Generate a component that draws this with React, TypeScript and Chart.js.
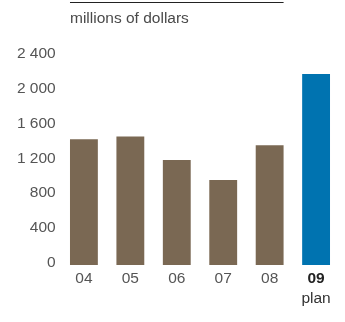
import React, { useEffect, useRef } from "react";
import { Chart, registerables } from "chart.js";

Chart.register(...registerables);

// ---- data ----
const categories = ["04", "05", "06", "07", "08", "09"];
const capitalSpending = [1450, 1480, 1210, 980, 1380, 2200];
const planIndex = 5;
const planNote = "plan";
const unitTitle = "millions of dollars";
const yTickValues = [0, 400, 800, 1200, 1600, 2000, 2400];
const yTickLabels = ["0", "400", "800", "1 200", "1 600", "2 000", "2 400"];

// ---- style ----
const BROWN = "#7a6853";
const BLUE = "#0073b0";
const FONT = "'Liberation Sans', Arial, Helvetica, sans-serif";
const FONT_SIZE = 15.5;

export default function App() {
  const ref = useRef<HTMLCanvasElement>(null);

  useEffect(() => {
    const canvas = ref.current;
    if (!canvas) return;

    const headerPlugin = {
      id: "header",
      afterDraw(chart: any) {
        const { ctx, chartArea } = chart;
        const meta = chart.getDatasetMeta(0);
        const first = meta.data[0] as any;
        const lastHist = meta.data[planIndex - 1] as any;
        const left = first.x - first.width / 2;
        const right = lastHist.x + lastHist.width / 2;
        ctx.save();
        ctx.strokeStyle = "#222";
        ctx.lineWidth = 1;
        ctx.beginPath();
        ctx.moveTo(left, 2.5);
        ctx.lineTo(right, 2.5);
        ctx.stroke();
        ctx.font = `${FONT_SIZE}px ${FONT}`;
        ctx.fillStyle = "#4a4a4a";
        ctx.textBaseline = "middle";
        ctx.textAlign = "left";
        ctx.fillText(unitTitle, left, 18.5);
        const xs = chart.scales.x;
        ctx.textAlign = "center";
        ctx.fillStyle = "#333";
        ctx.fillText(planNote, xs.getPixelForValue(planIndex), chartArea.bottom + 33.5);
        ctx.restore();
      },
    };

    const chart = new Chart(canvas, {
      type: "bar",
      data: {
        labels: categories,
        datasets: [
          {
            data: capitalSpending,
            backgroundColor: categories.map((_, i) => (i === planIndex ? BLUE : BROWN)),
            borderWidth: 0,
            categoryPercentage: 1,
            barPercentage: 0.6,
          },
        ],
      },
      options: {
        animation: false,
        responsive: false,
        maintainAspectRatio: false,
        layout: { padding: { top: 56.7, left: 0, right: 5.7, bottom: 0 } },
        plugins: {
          legend: { display: false },
          tooltip: { enabled: false },
          title: { display: false },
        },
        scales: {
          x: {
            grid: { display: false, drawTicks: false },
            border: { display: false },
            ticks: {
              padding: 4,
              font: (c: any) => ({
                family: FONT,
                size: FONT_SIZE,
                weight: c.index === planIndex ? "bold" : "normal",
              }),
              color: (c: any) => (c.index === planIndex ? "#222" : "#555"),
            },
            afterFit: (s: any) => {
              s.height = 57;
            },
          },
          y: {
            min: 0,
            max: 2400,
            grid: { display: false, drawTicks: false },
            border: { display: false },
            afterBuildTicks: (s: any) => {
              s.ticks = yTickValues.map((v) => ({ value: v }));
            },
            ticks: {
              padding: 5,
              labelOffset: -2.5,
              font: { family: FONT, size: FONT_SIZE },
              color: "#555",
              callback: (v: any) => {
                const i = yTickValues.indexOf(Number(v));
                return i >= 0 ? yTickLabels[i] : "";
              },
            },
            afterFit: (s: any) => {
              s.width = 60.7;
            },
          },
        },
      },
      plugins: [headerPlugin],
    } as any);

    return () => chart.destroy();
  }, []);

  return (
    <div style={{ position: "absolute", left: 0, top: 0, width: 345, height: 322 }}>
      <canvas ref={ref} width={345} height={322} style={{ display: "block", width: 345, height: 322 }} />
    </div>
  );
}
